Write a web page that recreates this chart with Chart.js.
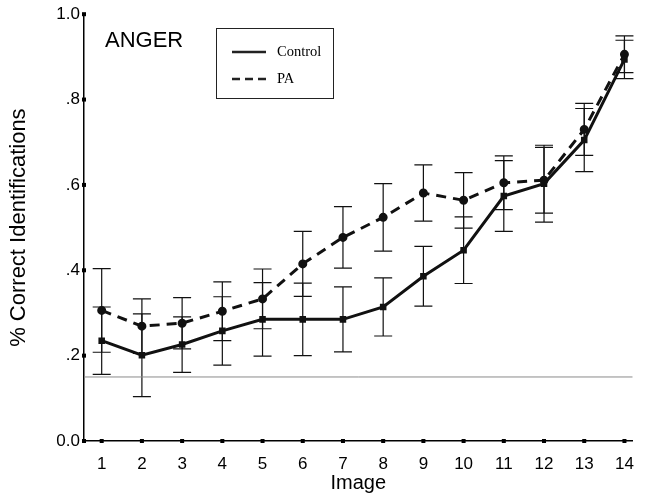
<!DOCTYPE html>
<html>
<head>
<meta charset="utf-8">
<script src="https://cdn.jsdelivr.net/npm/chart.js@4.4.1/dist/chart.umd.min.js"></script>
<style>
  html, body { margin: 0; padding: 0; background: #fff; }
  #wrap { width: 647px; height: 495px; }
</style>
</head>
<body>
<div id="wrap"><canvas id="c" width="647" height="495"></canvas></div>
<script>
// data
var images = [1, 2, 3, 4, 5, 6, 7, 8, 9, 10, 11, 12, 13, 14];
var control = [0.235, 0.201, 0.226, 0.258, 0.285, 0.285, 0.285, 0.314, 0.386, 0.447, 0.574, 0.603, 0.705, 0.894];
var controlErr = [0.079, 0.097, 0.065, 0.080, 0.086, 0.085, 0.076, 0.068, 0.070, 0.078, 0.083, 0.090, 0.074, 0.045];
var pa = [0.306, 0.269, 0.276, 0.304, 0.333, 0.415, 0.477, 0.524, 0.581, 0.564, 0.605, 0.611, 0.730, 0.906];
var paErr = [0.098, 0.064, 0.060, 0.069, 0.070, 0.076, 0.072, 0.079, 0.066, 0.065, 0.063, 0.077, 0.061, 0.043];
var yTicks = [0, 0.2, 0.4, 0.6, 0.8, 1.0];
var chanceLevel = 0.15;
var panelTitle = "ANGER";
var seriesNames = ["Control", "PA"];

function pts(vals) {
    return vals.map(function(v, i) { return { x: images[i], y: v }; });
}

var errorBars = {
    id: "errorBars",
    beforeDatasetsDraw: function(chart) {
        var ctx = chart.ctx, xs = chart.scales.x, ys = chart.scales.y;
        var sets = [[control, controlErr], [pa, paErr]];
        ctx.save();
        ctx.strokeStyle = "#111";
        ctx.lineWidth = 1.2;
        sets.forEach(function(s) {
            s[0].forEach(function(v, i) {
                var px = xs.getPixelForValue(images[i]);
                var top = ys.getPixelForValue(v + s[1][i]);
                var bot = ys.getPixelForValue(v - s[1][i]);
                ctx.beginPath();
                ctx.moveTo(px, top); ctx.lineTo(px, bot);
                ctx.moveTo(px - 9, top); ctx.lineTo(px + 9, top);
                ctx.moveTo(px - 9, bot); ctx.lineTo(px + 9, bot);
                ctx.stroke();
            });
        });
        // chance line
        var cy = ys.getPixelForValue(chanceLevel);
        ctx.strokeStyle = "#8a8a8a";
        ctx.lineWidth = 1;
        ctx.beginPath();
        ctx.moveTo(xs.left, cy); ctx.lineTo(xs.right, cy);
        ctx.stroke();
        ctx.restore();
    }
};

var decorations = {
    id: "decorations",
    afterDraw: function(chart) {
        var ctx = chart.ctx, xs = chart.scales.x, ys = chart.scales.y;
        ctx.save();
        ctx.fillStyle = "#000";
        // square tick marks
        xs.ticks.forEach(function(t) {
            var px = xs.getPixelForValue(t.value);
            ctx.fillRect(px - 2, ys.bottom - 2, 4, 4);
        });
        yTicks.forEach(function(v) {
            var py = ys.getPixelForValue(v);
            ctx.fillRect(xs.left - 2, py - 2, 4, 4);
        });
        // panel title
        ctx.font = "22px 'Liberation Sans', Arial, sans-serif";
        ctx.textBaseline = "middle";
        ctx.fillText(panelTitle, 105, 41);
        // legend box
        ctx.strokeStyle = "#222";
        ctx.lineWidth = 1;
        ctx.strokeRect(216.5, 28.5, 117, 70);
        ctx.lineWidth = 2.5;
        ctx.beginPath();
        ctx.moveTo(232, 52); ctx.lineTo(266, 52);
        ctx.stroke();
        ctx.setLineDash([8, 5]);
        ctx.beginPath();
        ctx.moveTo(232, 79); ctx.lineTo(268, 79);
        ctx.stroke();
        ctx.setLineDash([]);
        ctx.font = "14.5px 'Liberation Serif', 'Times New Roman', serif";
        ctx.fillText(seriesNames[0], 277, 52);
        ctx.fillText(seriesNames[1], 277, 79);
        ctx.restore();
    }
};

var ctx = document.getElementById("c").getContext("2d");
var chart = new Chart(ctx, {
    type: "line",
    data: {
        datasets: [{
            label: seriesNames[0],
            data: pts(control),
            borderColor: "#111",
            backgroundColor: "#111",
            borderWidth: 3,
            pointStyle: "rect",
            pointRadius: 2.5,
            tension: 0
        }, {
            label: seriesNames[1],
            data: pts(pa),
            borderColor: "#111",
            backgroundColor: "#111",
            borderWidth: 3,
            borderDash: [10, 7],
            pointStyle: "circle",
            pointRadius: 3,
            tension: 0
        }]
    },
    options: {
        responsive: false,
        animation: false,
        layout: { padding: { top: 14, right: 4, left: 6, bottom: 0 } },
        plugins: { legend: { display: false }, tooltip: { enabled: false } },
        scales: {
            x: {
                type: "linear",
                min: 0.56,
                max: 14.2,
                afterBuildTicks: function(s) { s.ticks = images.map(function(v) { return { value: v }; }); },
                afterFit: function(s) { s.height = 54; },
                grid: { display: false, drawTicks: false },
                border: { display: true, color: "#000", width: 1.5 },
                ticks: {
                    padding: 13,
                    color: "#000",
                    font: { family: "'Liberation Sans', Arial, sans-serif", size: 17 },
                    maxRotation: 0,
                    autoSkip: false
                },
                title: {
                    display: true,
                    text: "Image",
                    color: "#000",
                    padding: { top: 0, bottom: 0 },
                    font: { family: "'Liberation Sans', Arial, sans-serif", size: 20 }
                }
            },
            y: {
                min: 0,
                max: 1,
                afterBuildTicks: function(s) { s.ticks = yTicks.map(function(v) { return { value: v }; }); },
                afterFit: function(s) { s.width = 78; },
                grid: { display: false, drawTicks: false },
                border: { display: true, color: "#000", width: 1.5 },
                ticks: {
                    padding: 4,
                    color: "#000",
                    font: { family: "'Liberation Sans', Arial, sans-serif", size: 17 },
                    callback: function(v) {
                        if (v === 0) return "0.0";
                        if (v === 1) return "1.0";
                        return "." + Math.round(v * 10);
                    }
                },
                title: {
                    display: true,
                    text: "% Correct Identifications",
                    color: "#000",
                    padding: { top: 0, bottom: 10 },
                    font: { family: "'Liberation Sans', Arial, sans-serif", size: 22 }
                }
            }
        }
    },
    plugins: [errorBars, decorations]
});
</script>
</body>
</html>
